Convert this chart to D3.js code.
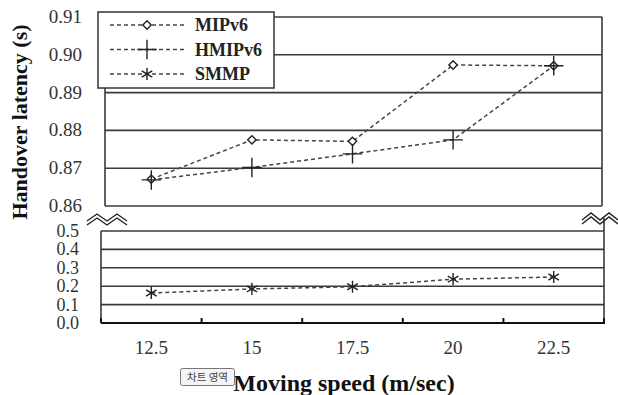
<!DOCTYPE html>
<html><head><meta charset="utf-8">
<script src="https://cdn.jsdelivr.net/npm/d3@7"></script>
</head><body style="margin:0">
<svg id="c" width="618" height="395" style="display:block;background:#fff"></svg>
<script>
const categories = ["12.5","15","17.5","20","22.5"];
const mipv6  = [0.8671, 0.8775, 0.8771, 0.8973, 0.8971];
const hmipv6 = [0.8669, 0.8702, 0.8738, 0.8775, 0.8971];
const smmp   = [0.163, 0.185, 0.197, 0.238, 0.250];
const topTicks = [0.86,0.87,0.88,0.89,0.90,0.91];
const botTicks = [0.0,0.1,0.2,0.3,0.4,0.5];
const seriesNames = ["MIPv6","HMIPv6","SMMP"];

const svg = d3.select("#c");
const grid = "#3a3a3a";
const SF = "\"Liberation Serif\"";

const x = d3.scaleBand().domain(categories).range([101,604]).padding(0);
const cx = c => x(c) + x.bandwidth()/2;
const yT = d3.scaleLinear().domain([0.86,0.91]).range([206,17]);
const yB = d3.scaleLinear().domain([0,0.5]).range([323,231]);
const topL = 105, topR = 602;

// upper panel gridlines
svg.append("g").selectAll("line").data(topTicks).join("line")
  .attr("x1",topL).attr("x2",topR).attr("y1",d=>yT(d)).attr("y2",d=>yT(d))
  .attr("stroke",grid).attr("stroke-width",1.6);
svg.append("line").attr("x1",topL).attr("x2",topL).attr("y1",yT(0.91)).attr("y2",yT(0.86)).attr("stroke",grid).attr("stroke-width",1.6);
svg.append("line").attr("x1",topR).attr("x2",topR).attr("y1",yT(0.91)).attr("y2",yT(0.86)).attr("stroke",grid).attr("stroke-width",1.6);

// lower panel gridlines
svg.append("g").selectAll("line").data(botTicks.filter(d=>d>0)).join("line")
  .attr("x1",101).attr("x2",604).attr("y1",d=>yB(d)).attr("y2",d=>yB(d))
  .attr("stroke",grid).attr("stroke-width",1.6);
svg.append("line").attr("x1",101).attr("x2",101).attr("y1",yB(0.5)).attr("y2",yB(0)).attr("stroke",grid).attr("stroke-width",1.6);
svg.append("line").attr("x1",604).attr("x2",604).attr("y1",218).attr("y2",yB(0)).attr("stroke",grid).attr("stroke-width",1.6);

// x axis
const xAxis = svg.append("g").attr("transform",`translate(0,${yB(0)})`);
xAxis.append("line").attr("x1",101).attr("x2",605).attr("stroke","#111").attr("stroke-width",2.2);
const bounds = categories.map(c=>x(c)).concat([x.range()[1]]);
xAxis.selectAll("line.tk").data(bounds).join("line").attr("class","tk")
  .attr("x1",d=>d).attr("x2",d=>d).attr("y1",0).attr("y2",-5).attr("stroke","#111").attr("stroke-width",2);
xAxis.selectAll("text").data(categories).join("text").style("font-family",SF)
  .attr("x",d=>cx(d)).attr("y",31).attr("text-anchor","middle")
  .attr("font-size",19).attr("fill","#333").text(d=>d);

// y tick labels
svg.append("g").selectAll("text").data(topTicks).join("text").style("font-family",SF)
  .attr("x",82).attr("y",d=>yT(d)+6).attr("text-anchor","end")
  .attr("font-size",19).attr("fill","#333").text(d=>d.toFixed(2));
svg.append("g").selectAll("text").data(botTicks).join("text").style("font-family",SF)
  .attr("x",79).attr("y",d=>yB(d)+6).attr("text-anchor","end")
  .attr("font-size",18).attr("fill","#333").text(d=>d.toFixed(1));

// break marks
function zig(x0,y0,w,h){
  const p = d3.path();
  p.moveTo(x0,y0+h); p.lineTo(x0+w*0.25,y0); p.lineTo(x0+w*0.5,y0+h); p.lineTo(x0+w*0.75,y0); p.lineTo(x0+w,y0+h);
  return p.toString();
}
[[87,214],[582,213]].forEach(([bx,by])=>{
  [0,4].forEach(o=>{
    svg.append("path").attr("d",zig(bx,by+o,bx>500?36:40,7)).attr("fill","none")
      .attr("stroke","#222").attr("stroke-width",1.4);
  });
});

// data lines
const dash = "4,3";
const lineTop = d3.line().x((d,i)=>cx(categories[i])).y(d=>yT(d));
const lineBot = d3.line().x((d,i)=>cx(categories[i])).y(d=>yB(d));
[mipv6,hmipv6].forEach(s=>{
  svg.append("path").attr("d",lineTop(s)).attr("fill","none").attr("stroke","#444")
    .attr("stroke-width",1.5).attr("stroke-dasharray",dash);
});
svg.append("path").attr("d",lineBot(smmp)).attr("fill","none").attr("stroke","#444")
  .attr("stroke-width",1.5).attr("stroke-dasharray",dash);

const symDiamond = d3.symbol().type(d3.symbolDiamond2).size(45);
const symPlus = d3.symbol().type(d3.symbolPlus).size(125);
const symAst = d3.symbol().type(d3.symbolAsterisk).size(105);
function marks(vals, yS, sym, fill){
  svg.append("g").selectAll("path").data(vals).join("path")
    .attr("transform",(d,i)=>`translate(${cx(categories[i])},${yS(d)})`)
    .attr("d",sym()).attr("fill",fill).attr("stroke","#222").attr("stroke-width",1.4);
}
marks(mipv6,yT,symDiamond,"#fff");
marks(hmipv6,yT,symPlus,"none");
marks(smmp,yB,symAst,"none");

// legend
const lg = svg.append("g");
lg.append("rect").attr("x",98).attr("y",12).attr("width",176).attr("height",76)
  .attr("fill","#fff").attr("stroke","#333").attr("stroke-width",1.5);
const syms = [symDiamond, symPlus, symAst];
seriesNames.forEach((n,i)=>{
  const yy = 25 + i*24.5;
  lg.append("line").attr("x1",110).attr("x2",185).attr("y1",yy).attr("y2",yy)
    .attr("stroke","#444").attr("stroke-width",1.5).attr("stroke-dasharray",dash);
  lg.append("path").attr("transform",`translate(147,${yy})`).attr("d",syms[i]())
    .attr("fill",i===0?"#fff":"none").attr("stroke","#222").attr("stroke-width",1.4);
  lg.append("text").style("font-family",SF).attr("x",195).attr("y",yy+6)
    .attr("font-weight","bold").attr("font-size",18).attr("fill","#222").text(n);
});

// axis titles
svg.append("text").style("font-family",SF).attr("transform","translate(27,122) rotate(-90)").attr("text-anchor","middle")
  .attr("font-weight","bold").attr("font-size",22).attr("fill","#111")
  .text("Handover latency (s)");
svg.append("text").style("font-family",SF).attr("x",344).attr("y",391).attr("text-anchor","middle")
  .attr("font-weight","bold").attr("font-size",24).attr("fill","#111")
  .text("Moving speed (m/sec)");

// tooltip
const tt = svg.append("g");
tt.append("rect").attr("x",180.5).attr("y",368.5).attr("width",54).attr("height",17).attr("rx",2)
  .attr("fill","#f4f4f4").attr("stroke","#777");
tt.append("text").attr("x",207.5).attr("y",381).attr("text-anchor","middle")
  .style("font-family","\"Noto Sans CJK KR\"").attr("font-size",10.5).attr("fill","#444").text("차트 영역");
</script>
</body></html>
